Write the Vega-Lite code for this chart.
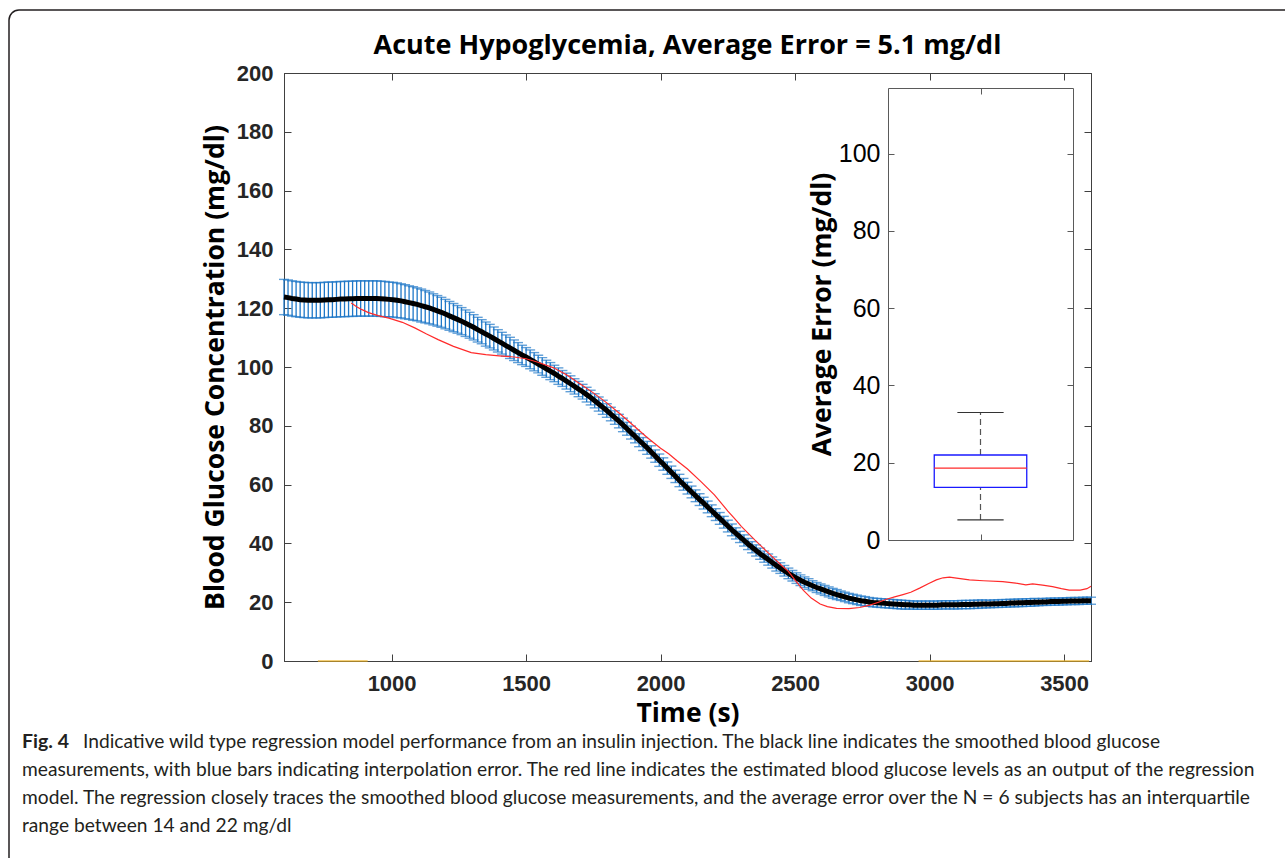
{
  "$schema": "https://vega.github.io/schema/vega-lite/v6.json",
  "width": 807,
  "height": 588,
  "autosize": {"type": "none"},
  "padding": {"left": 284, "top": 73, "right": 194, "bottom": 197},
  "background": "white",
  "config": {"view": {"stroke": "#404040", "strokeWidth": 1}, "axis": {"grid": false}},
  "title": {"text": "Acute Hypoglycemia, Average Error = 5.1 mg/dl", "frame": "group", "anchor": "middle", "font": "Open Sans", "fontSize": 27, "fontWeight": "bold", "color": "#000000", "offset": -72, "baseline": "alphabetic"},
  "datasets": {
    "frame": [{"id": 1}],
    "glucose": [
      {"t":600,"g":123.8,"e":6},{"t":615,"g":123.6,"e":6},{"t":630,"g":123.3,"e":6},{"t":645,"g":123.1,"e":6},{"t":660,"g":122.9,"e":6},{"t":675,"g":122.8,"e":6},{"t":690,"g":122.7,"e":6},{"t":705,"g":122.7,"e":6},{"t":720,"g":122.7,"e":6},{"t":735,"g":122.7,"e":6},
      {"t":750,"g":122.8,"e":6},{"t":765,"g":122.9,"e":6},{"t":780,"g":122.9,"e":6},{"t":795,"g":123.0,"e":6},{"t":810,"g":123.1,"e":6},{"t":825,"g":123.1,"e":6},{"t":840,"g":123.2,"e":6},{"t":855,"g":123.2,"e":6},{"t":870,"g":123.3,"e":6},{"t":885,"g":123.3,"e":6},
      {"t":900,"g":123.3,"e":6},{"t":915,"g":123.3,"e":6},{"t":930,"g":123.3,"e":6},{"t":945,"g":123.3,"e":6},{"t":960,"g":123.2,"e":6},{"t":975,"g":123.1,"e":6},{"t":990,"g":123.0,"e":5.9},{"t":1005,"g":122.9,"e":5.9},{"t":1020,"g":122.7,"e":5.9},{"t":1035,"g":122.5,"e":5.8},
      {"t":1050,"g":122.2,"e":5.8},{"t":1065,"g":121.9,"e":5.7},{"t":1080,"g":121.6,"e":5.7},{"t":1095,"g":121.3,"e":5.6},{"t":1110,"g":120.9,"e":5.6},{"t":1125,"g":120.5,"e":5.5},{"t":1140,"g":120.1,"e":5.4},{"t":1155,"g":119.6,"e":5.3},{"t":1170,"g":119.1,"e":5.2},{"t":1185,"g":118.6,"e":5.1},
      {"t":1200,"g":118.0,"e":5.0},{"t":1215,"g":117.4,"e":4.9},{"t":1230,"g":116.8,"e":4.8},{"t":1245,"g":116.2,"e":4.7},{"t":1260,"g":115.6,"e":4.6},{"t":1275,"g":114.9,"e":4.5},{"t":1290,"g":114.2,"e":4.4},{"t":1305,"g":113.5,"e":4.3},{"t":1320,"g":112.7,"e":4.2},{"t":1335,"g":112.0,"e":4.1},
      {"t":1350,"g":111.2,"e":4.1},{"t":1365,"g":110.5,"e":4.0},{"t":1380,"g":109.7,"e":3.9},{"t":1395,"g":108.9,"e":3.8},{"t":1410,"g":108.1,"e":3.7},{"t":1425,"g":107.3,"e":3.6},{"t":1440,"g":106.5,"e":3.6},{"t":1455,"g":105.7,"e":3.5},{"t":1470,"g":104.9,"e":3.4},{"t":1485,"g":104.1,"e":3.3},
      {"t":1500,"g":103.4,"e":3.2},{"t":1515,"g":102.6,"e":3.2},{"t":1530,"g":101.8,"e":3.1},{"t":1545,"g":101.0,"e":3.0},{"t":1560,"g":100.2,"e":3.0},{"t":1575,"g":99.4,"e":2.9},{"t":1590,"g":98.6,"e":2.9},{"t":1605,"g":97.8,"e":2.8},{"t":1620,"g":96.9,"e":2.8},{"t":1635,"g":96.1,"e":2.7},
      {"t":1650,"g":95.2,"e":2.7},{"t":1665,"g":94.3,"e":2.7},{"t":1680,"g":93.4,"e":2.6},{"t":1695,"g":92.5,"e":2.6},{"t":1710,"g":91.6,"e":2.5},{"t":1725,"g":90.6,"e":2.5},{"t":1740,"g":89.6,"e":2.5},{"t":1755,"g":88.5,"e":2.4},{"t":1770,"g":87.4,"e":2.4},{"t":1785,"g":86.3,"e":2.4},
      {"t":1800,"g":85.2,"e":2.3},{"t":1815,"g":84.0,"e":2.3},{"t":1830,"g":82.8,"e":2.3},{"t":1845,"g":81.6,"e":2.3},{"t":1860,"g":80.3,"e":2.3},{"t":1875,"g":79.0,"e":2.2},{"t":1890,"g":77.7,"e":2.2},{"t":1905,"g":76.4,"e":2.2},{"t":1920,"g":75.1,"e":2.2},{"t":1935,"g":73.8,"e":2.2},
      {"t":1950,"g":72.5,"e":2.2},{"t":1965,"g":71.1,"e":2.1},{"t":1980,"g":69.7,"e":2.1},{"t":1995,"g":68.3,"e":2.1},{"t":2010,"g":67.0,"e":2.1},{"t":2025,"g":65.6,"e":2.1},{"t":2040,"g":64.2,"e":2.1},{"t":2055,"g":62.8,"e":2.1},{"t":2070,"g":61.4,"e":2.1},{"t":2085,"g":60.1,"e":2.0},
      {"t":2100,"g":58.8,"e":2.0},{"t":2115,"g":57.5,"e":2.0},{"t":2130,"g":56.2,"e":2.0},{"t":2145,"g":54.9,"e":2.0},{"t":2160,"g":53.7,"e":2.0},{"t":2175,"g":52.4,"e":2.0},{"t":2190,"g":51.1,"e":2.0},{"t":2205,"g":49.8,"e":2.0},{"t":2220,"g":48.5,"e":2.0},{"t":2235,"g":47.2,"e":2.0},
      {"t":2250,"g":45.9,"e":2.0},{"t":2265,"g":44.6,"e":2.0},{"t":2280,"g":43.4,"e":1.9},{"t":2295,"g":42.2,"e":1.9},{"t":2310,"g":41.0,"e":1.9},{"t":2325,"g":39.8,"e":1.9},{"t":2340,"g":38.7,"e":1.9},{"t":2355,"g":37.6,"e":1.9},{"t":2370,"g":36.5,"e":1.9},{"t":2385,"g":35.5,"e":1.9},
      {"t":2400,"g":34.5,"e":1.9},{"t":2415,"g":33.5,"e":1.9},{"t":2430,"g":32.5,"e":1.9},{"t":2445,"g":31.6,"e":1.8},{"t":2460,"g":30.7,"e":1.8},{"t":2475,"g":29.8,"e":1.8},{"t":2490,"g":29.0,"e":1.8},{"t":2505,"g":28.2,"e":1.8},{"t":2520,"g":27.5,"e":1.8},{"t":2535,"g":26.8,"e":1.8},
      {"t":2550,"g":26.2,"e":1.8},{"t":2565,"g":25.6,"e":1.7},{"t":2580,"g":25.0,"e":1.7},{"t":2595,"g":24.5,"e":1.7},{"t":2610,"g":24.0,"e":1.7},{"t":2625,"g":23.5,"e":1.7},{"t":2640,"g":23.0,"e":1.7},{"t":2655,"g":22.6,"e":1.7},{"t":2670,"g":22.2,"e":1.6},{"t":2685,"g":21.8,"e":1.6},
      {"t":2700,"g":21.4,"e":1.6},{"t":2715,"g":21.1,"e":1.6},{"t":2730,"g":20.8,"e":1.6},{"t":2745,"g":20.5,"e":1.6},{"t":2760,"g":20.3,"e":1.6},{"t":2775,"g":20.1,"e":1.5},{"t":2790,"g":19.9,"e":1.5},{"t":2805,"g":19.8,"e":1.5},{"t":2820,"g":19.7,"e":1.5},{"t":2835,"g":19.6,"e":1.5},
      {"t":2850,"g":19.5,"e":1.5},{"t":2865,"g":19.4,"e":1.5},{"t":2880,"g":19.3,"e":1.5},{"t":2895,"g":19.2,"e":1.5},{"t":2910,"g":19.1,"e":1.5},{"t":2925,"g":19.1,"e":1.4},{"t":2940,"g":19.0,"e":1.4},{"t":2955,"g":19.0,"e":1.4},{"t":2970,"g":19.0,"e":1.4},{"t":2985,"g":19.0,"e":1.4},
      {"t":3000,"g":19.0,"e":1.4},{"t":3015,"g":19.0,"e":1.4},{"t":3030,"g":19.0,"e":1.4},{"t":3045,"g":19.1,"e":1.4},{"t":3060,"g":19.1,"e":1.4},{"t":3075,"g":19.1,"e":1.4},{"t":3090,"g":19.1,"e":1.4},{"t":3105,"g":19.1,"e":1.4},{"t":3120,"g":19.2,"e":1.4},{"t":3135,"g":19.2,"e":1.4},
      {"t":3150,"g":19.2,"e":1.4},{"t":3165,"g":19.3,"e":1.4},{"t":3180,"g":19.3,"e":1.4},{"t":3195,"g":19.4,"e":1.4},{"t":3210,"g":19.4,"e":1.3},{"t":3225,"g":19.4,"e":1.3},{"t":3240,"g":19.5,"e":1.3},{"t":3255,"g":19.5,"e":1.3},{"t":3270,"g":19.6,"e":1.3},{"t":3285,"g":19.6,"e":1.3},
      {"t":3300,"g":19.7,"e":1.3},{"t":3315,"g":19.7,"e":1.3},{"t":3330,"g":19.8,"e":1.3},{"t":3345,"g":19.8,"e":1.3},{"t":3360,"g":19.9,"e":1.3},{"t":3375,"g":19.9,"e":1.3},{"t":3390,"g":20.0,"e":1.3},{"t":3405,"g":20.0,"e":1.2},{"t":3420,"g":20.1,"e":1.2},{"t":3435,"g":20.1,"e":1.2},
      {"t":3450,"g":20.2,"e":1.2},{"t":3465,"g":20.2,"e":1.2},{"t":3480,"g":20.2,"e":1.2},{"t":3495,"g":20.3,"e":1.2},{"t":3510,"g":20.3,"e":1.2},{"t":3525,"g":20.4,"e":1.2},{"t":3540,"g":20.4,"e":1.2},{"t":3555,"g":20.4,"e":1.2},{"t":3570,"g":20.5,"e":1.2},{"t":3585,"g":20.5,"e":1.2},
      {"t":3600,"g":20.5,"e":1.2}
    ],
    "regression": [
      {"t":850,"r":121.8},{"t":870,"r":120.5},{"t":890,"r":119.5},{"t":914,"r":118.5},{"t":950,"r":117.5},{"t":990,"r":116.6},{"t":1040,"r":115.2},{"t":1086,"r":113.3},{"t":1130,"r":111.2},{"t":1173,"r":109.3},
      {"t":1230,"r":107.0},{"t":1296,"r":104.9},{"t":1350,"r":104.2},{"t":1400,"r":103.8},{"t":1456,"r":103.4},{"t":1500,"r":102.8},{"t":1544,"r":101.6},{"t":1600,"r":99.8},{"t":1650,"r":97.4},{"t":1700,"r":94.3},
      {"t":1750,"r":91.2},{"t":1800,"r":87.8},{"t":1850,"r":84.0},{"t":1900,"r":80.0},{"t":1950,"r":76.0},{"t":2000,"r":72.4},{"t":2030,"r":70.5},{"t":2060,"r":68.2},{"t":2100,"r":65.3},{"t":2150,"r":61.0},
      {"t":2200,"r":56.5},{"t":2250,"r":51.0},{"t":2272,"r":48.8},{"t":2300,"r":45.8},{"t":2350,"r":41.2},{"t":2400,"r":36.8},{"t":2450,"r":32.5},{"t":2475,"r":30.5},{"t":2500,"r":27.5},{"t":2531,"r":24.0},
      {"t":2560,"r":21.4},{"t":2593,"r":19.4},{"t":2620,"r":18.5},{"t":2654,"r":17.9},{"t":2700,"r":17.8},{"t":2740,"r":18.2},{"t":2778,"r":19.0},{"t":2810,"r":20.0},{"t":2840,"r":21.0},{"t":2870,"r":21.8},
      {"t":2901,"r":22.6},{"t":2930,"r":23.4},{"t":2963,"r":24.8},{"t":2995,"r":26.3},{"t":3025,"r":27.6},{"t":3050,"r":28.3},{"t":3074,"r":28.5},{"t":3100,"r":28.2},{"t":3148,"r":27.6},{"t":3200,"r":27.3},
      {"t":3272,"r":27.0},{"t":3320,"r":26.5},{"t":3358,"r":25.9},{"t":3383,"r":26.2},{"t":3420,"r":25.8},{"t":3457,"r":25.3},{"t":3490,"r":24.6},{"t":3519,"r":24.1},{"t":3560,"r":24.1},{"t":3585,"r":24.6},
      {"t":3600,"r":25.4}
    ],
    "zero": [{"t0":726,"t1":911},{"t0":2959,"t1":3593}],
    "box": [{"lo":5.2,"q1":13.6,"med":18.6,"q3":22.0,"hi":33.0}],
    "caption": [
      {"line":0,"part":"head","text":"Fig. 4"},
      {"line":0,"part":"first","text":"Indicative wild type regression model performance from an insulin injection. The black line indicates the smoothed blood glucose"},
      {"line":1,"part":"body","text":"measurements, with blue bars indicating interpolation error. The red line indicates the estimated blood glucose levels as an output of the regression"},
      {"line":2,"part":"body","text":"model. The regression closely traces the smoothed blood glucose measurements, and the average error over the N = 6 subjects has an interquartile"},
      {"line":3,"part":"body","text":"range between 14 and 22 mg/dl"}
    ]
  },
  "layer": [
    {
      "data": {"name": "frame"},
      "mark": {"type": "rect", "fill": "transparent", "stroke": "#231f20", "strokeWidth": 1.5, "cornerRadius": 10},
      "encoding": {
        "x": {"datum": 0, "type": "quantitative", "scale": {"domain": [0, 1], "range": [-275, 1020]}, "axis": null},
        "x2": {"datum": 1},
        "y": {"datum": 0, "type": "quantitative", "scale": {"domain": [0, 1], "range": [-63, 800]}, "axis": null},
        "y2": {"datum": 1}
      }
    },
    {
      "data": {"name": "glucose"},
      "encoding": {
        "x": {"field": "t", "type": "quantitative", "scale": {"domain": [600, 3600], "nice": false, "zero": false},
          "axis": {"orient": "bottom", "values": [1000, 1500, 2000, 2500, 3000, 3500], "format": "d", "title": "Time (s)", "titleFont": "Open Sans", "titleFontSize": 26.5, "titleFontWeight": "bold", "titleColor": "#000000", "titlePadding": 6, "labelFont": "Liberation Sans", "labelFontSize": 22, "labelFontWeight": "bold", "labelColor": "#262626", "labelPadding": 19, "tickSize": -7, "tickColor": "#404040", "domainColor": "#404040", "labelFlush": false}},
        "y": {"field": "g", "type": "quantitative", "scale": {"domain": [0, 200], "nice": false},
          "axis": {"orient": "left", "values": [0, 20, 40, 60, 80, 100, 120, 140, 160, 180, 200], "format": "d", "title": "Blood Glucose Concentration (mg/dl)", "titleFont": "Open Sans", "titleFontSize": 26.5, "titleFontWeight": "bold", "titleColor": "#000000", "titlePadding": 7, "labelFont": "Liberation Sans", "labelFontSize": 22, "labelFontWeight": "bold", "labelColor": "#262626", "labelPadding": 18, "tickSize": -7, "tickColor": "#404040", "domainColor": "#404040"}}
      },
      "layer": [
        {
          "mark": {"type": "errorbar", "color": "#1f78c8", "ticks": {"size": 10, "thickness": 1.4, "color": "#1f78c8"}, "rule": {"strokeWidth": 1.3, "color": "#1f78c8"}},
          "encoding": {"yError": {"field": "e"}}
        },
        {
          "mark": {"type": "line", "color": "#000000", "strokeWidth": 5}
        },
        {
          "data": {"name": "regression"},
          "mark": {"type": "line", "color": "#ff2a2a", "strokeWidth": 1.2},
          "encoding": {"y": {"field": "r", "type": "quantitative", "scale": {"domain": [0, 200], "nice": false}}}
        }
      ]
    },
    {
      "data": {"name": "zero"},
      "mark": {"type": "rule", "color": "#edb120", "strokeWidth": 1.5, "opacity": 0.8},
      "encoding": {
        "x": {"field": "t0", "type": "quantitative", "scale": {"domain": [600, 3600], "nice": false, "zero": false},
          "axis": {"orient": "top", "values": [1000, 1500, 2000, 2500, 3000, 3500], "labels": false, "title": null, "tickSize": -7, "tickColor": "#404040", "domainColor": "#404040"}},
        "x2": {"field": "t1"},
        "y": {"datum": 0, "type": "quantitative", "scale": {"domain": [0, 200], "nice": false},
          "axis": {"orient": "right", "values": [0, 20, 40, 60, 80, 100, 120, 140, 160, 180, 200], "labels": false, "title": null, "tickSize": -7, "tickColor": "#404040", "domainColor": "#404040"}}
      }
    },
    {
      "data": {"name": "box"},
      "layer": [
        {
          "mark": {"type": "rule", "color": "#555555", "strokeDash": [6, 4], "strokeWidth": 1.2},
          "encoding": {
            "x": {"datum": 1, "type": "quantitative", "scale": {"domain": [0.5, 1.5], "range": [604, 789], "nice": false, "zero": false},
              "axis": {"orient": "bottom", "offset": -121, "values": [1], "labels": false, "title": null, "tickSize": -6, "tickColor": "#5a5a5a", "domainColor": "#5a5a5a"}},
            "y": {"field": "lo", "type": "quantitative", "scale": {"domain": [0, 117], "range": [467, 15], "nice": false},
              "axis": {"orient": "left", "offset": -604, "values": [0, 20, 40, 60, 80, 100], "title": "Average Error (mg/dl)", "titleFont": "Open Sans", "titleFontSize": 26.5, "titleFontWeight": "bold", "titleColor": "#000000", "titlePadding": 2, "labelFont": "Liberation Sans", "labelFontSize": 25, "labelColor": "#000000", "labelPadding": 14, "tickSize": -6, "tickColor": "#5a5a5a", "domainColor": "#5a5a5a"}},
            "y2": {"field": "q1"}
          }
        },
        {
          "mark": {"type": "rule", "color": "#555555", "strokeDash": [6, 4], "strokeWidth": 1.2},
          "encoding": {
            "x": {"datum": 1, "type": "quantitative", "scale": {"domain": [0.5, 1.5], "range": [604, 789], "nice": false, "zero": false}},
            "y": {"field": "q3", "type": "quantitative", "scale": {"domain": [0, 117], "range": [467, 15], "nice": false}},
            "y2": {"field": "hi"}
          }
        },
        {
          "mark": {"type": "rect", "fill": "transparent", "stroke": "#1a1aff", "strokeWidth": 1.3},
          "encoding": {
            "x": {"datum": 0.75, "type": "quantitative", "scale": {"domain": [0.5, 1.5], "range": [604, 789], "nice": false, "zero": false}},
            "x2": {"datum": 1.25},
            "y": {"field": "q1", "type": "quantitative", "scale": {"domain": [0, 117], "range": [467, 15], "nice": false}},
            "y2": {"field": "q3"}
          }
        }
      ]
    },
    {
      "data": {"name": "box"},
      "layer": [
        {
          "mark": {"type": "rule", "color": "#333333", "strokeWidth": 1.2},
          "encoding": {
            "x": {"datum": 0.875, "type": "quantitative", "scale": {"domain": [0.5, 1.5], "range": [604, 789], "nice": false, "zero": false},
              "axis": {"orient": "top", "offset": -15, "values": [1], "labels": false, "title": null, "tickSize": -6, "tickColor": "#5a5a5a", "domainColor": "#5a5a5a"}},
            "x2": {"datum": 1.125},
            "y": {"field": "lo", "type": "quantitative", "scale": {"domain": [0, 117], "range": [467, 15], "nice": false},
              "axis": {"orient": "right", "offset": -18, "values": [0, 20, 40, 60, 80, 100], "labels": false, "title": null, "tickSize": -6, "tickColor": "#5a5a5a", "domainColor": "#5a5a5a"}}
          }
        },
        {
          "mark": {"type": "rule", "color": "#333333", "strokeWidth": 1.2},
          "encoding": {
            "x": {"datum": 0.875, "type": "quantitative", "scale": {"domain": [0.5, 1.5], "range": [604, 789], "nice": false, "zero": false}},
            "x2": {"datum": 1.125},
            "y": {"field": "hi", "type": "quantitative", "scale": {"domain": [0, 117], "range": [467, 15], "nice": false}}
          }
        },
        {
          "mark": {"type": "rule", "color": "#ff2a2a", "strokeWidth": 1.2},
          "encoding": {
            "x": {"datum": 0.75, "type": "quantitative", "scale": {"domain": [0.5, 1.5], "range": [604, 789], "nice": false, "zero": false}},
            "x2": {"datum": 1.25},
            "y": {"field": "med", "type": "quantitative", "scale": {"domain": [0, 117], "range": [467, 15], "nice": false}}
          }
        }
      ]
    },
    {
      "data": {"name": "caption"},
      "encoding": {
        "x": {"datum": 0, "type": "quantitative", "scale": {"domain": [0, 1], "range": [-262, 0]}, "axis": null},
        "y": {"field": "line", "type": "quantitative", "scale": {"domain": [0, 3], "range": [675, 759]}, "axis": null},
        "text": {"field": "text"}
      },
      "layer": [
        {"transform": [{"filter": "datum.part == 'head'"}], "mark": {"type": "text", "align": "left", "baseline": "alphabetic", "font": "Lato", "fontSize": 19.5, "fontWeight": "bold", "color": "#231f20"}},
        {"transform": [{"filter": "datum.part == 'first'"}], "mark": {"type": "text", "align": "left", "baseline": "alphabetic", "font": "Lato", "fontSize": 19.2, "color": "#231f20", "dx": 61}},
        {"transform": [{"filter": "datum.part == 'body'"}], "mark": {"type": "text", "align": "left", "baseline": "alphabetic", "font": "Lato", "fontSize": 19.2, "color": "#231f20"}}
      ]
    }
  ],
  "resolve": {"scale": {"x": "independent", "y": "independent"}, "axis": {"x": "independent", "y": "independent"}}
}
